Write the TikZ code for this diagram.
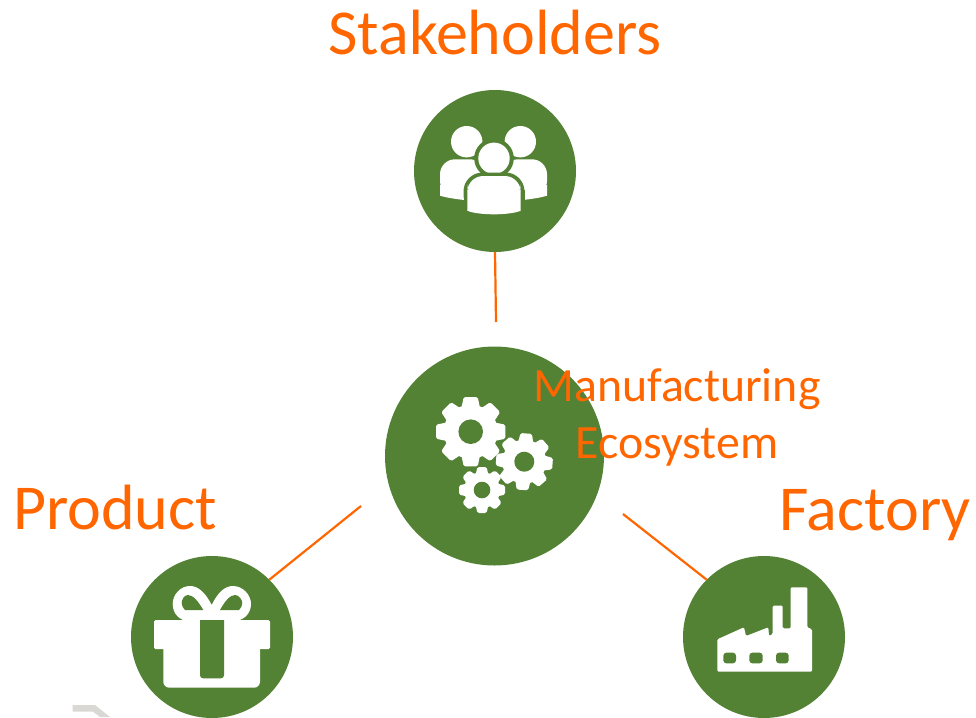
\documentclass[tikz,border=0pt]{standalone}
\usepackage{fontspec}
\setmainfont{Carlito}
\definecolor{leaf}{HTML}{548235}
\definecolor{tang}{HTML}{FF6600}
\definecolor{scrap}{HTML}{D9D8D4}
\tikzset{
  disc/.style={circle,fill=leaf,inner sep=0pt,outer sep=0pt,minimum size=#1},
  link/.style={draw=tang,line width=2.2pt},
  biglabel/.style={text=tang,font=\fontsize{64pt}{64pt}\selectfont,inner sep=0pt},
  midlabel/.style={text=tang,font=\fontsize{47.8pt}{47.8pt}\selectfont,inner sep=0pt},
  glyph/.style={fill=white,draw=none},
  cutout/.style={fill=leaf,draw=none}
}
\newcommand{\gearicon}[6]{%
  \begin{scope}[shift={(#1,#2)},rotate=#6]
    \fill[glyph] (0,0) circle (#4);
    \foreach \a in {0,45,...,315}{
      \fill[glyph,rotate=\a,rounded corners=1.6pt]
        (-0.36*#4,0.8*#4) -- (-0.26*#4,#3) -- (0.26*#4,#3) -- (0.36*#4,0.8*#4) -- cycle;
    }
    \fill[cutout] (0,0) circle (#5);
  \end{scope}}
\begin{document}
\begin{tikzpicture}[x=1pt,y=-1pt]
\useasboundingbox (0,0) rectangle (976,717);
% discs
\node[disc=162pt] (stake) at (495,171) {};
\node[disc=219pt] (core) at (494.5,456) {};
\node[disc=162pt] (prod) at (212,637) {};
\node[disc=162pt] (fact) at (764,637) {};
% connectors
\coordinate (stakeEnd) at (496,322);
\coordinate (prodEnd) at (361,506);
\coordinate (factEnd) at (623,514);
\draw[link] (stake.south) -- (stakeEnd);
\draw[link] (prod.45) -- (prodEnd);
\draw[link] (fact.135) -- (factEnd);
% people
\fill[glyph] (466.7,141.7) circle (15.7);
\fill[glyph] (520.3,141.7) circle (15.7);
\fill[glyph,rounded corners=15pt] (440,195.7) -- (440,159.3) -- (485,159.3) -- (485,200) -- cycle;
\fill[glyph] (440,195.7) .. controls (448,198) and (456,199) .. (464,200) -- (485,200) -- (485,185) -- (440,185) -- cycle;
\fill[glyph,rounded corners=15pt] (547,195.7) -- (547,159.3) -- (503,159.3) -- (503,200) -- cycle;
\fill[glyph] (547,195.7) .. controls (539,198) and (531,199) .. (523,200) -- (503,200) -- (503,185) -- (547,185) -- cycle;
\fill[cutout] (494,158.3) circle (19.8);
\fill[glyph] (494,158.3) circle (15.7);
\fill[cutout,rounded corners=19pt] (463.5,214) -- (463.5,172.5) -- (524.5,172.5) -- (524.5,214) -- cycle;
\fill[cutout] (463.5,190) rectangle (524.5,218);
\fill[glyph,rounded corners=16pt] (467.3,200) -- (467.3,176) -- (520.7,176) -- (520.7,200) -- cycle;
\fill[glyph] (467.3,190) -- (467.3,210.7) .. controls (478,215.5) and (510,215.5) .. (520.7,210.7) -- (520.7,190) -- cycle;
% gears
\gearicon{470.7}{431.7}{34.7}{27}{12.3}{0}
\gearicon{524.3}{461.7}{28.3}{22}{10}{-4}
\gearicon{482}{490}{23}{18}{8.3}{0}
% gift
\fill[glyph] (211.7,605) .. controls (205,592) and (198,586) .. (190,586)
  .. controls (180,586) and (172.7,595) .. (172.7,604)
  .. controls (172.7,614) and (180,621) .. (189,621) -- (234,621)
  .. controls (243,621) and (251,614) .. (251,604)
  .. controls (251,595) and (243,586) .. (233,586)
  .. controls (225,586) and (218,592) .. (211.7,605) -- cycle;
\fill[cutout] (203.3,610) .. controls (198,601) and (193,595) .. (188,595)
  .. controls (184,595) and (181.7,600) .. (181.7,603)
  .. controls (181.7,606) and (183,608) .. (185,610) -- cycle;
\fill[cutout] (220,610) .. controls (225,601) and (230,595) .. (235,595)
  .. controls (239,595) and (242.3,600) .. (242.3,603)
  .. controls (242.3,606) and (241,608) .. (239,610) -- cycle;
\fill[glyph,rounded corners=1.5pt] (154,620) rectangle (270,649);
\fill[glyph,rounded corners=6pt] (163.3,640) rectangle (260,687.7);
\fill[cutout,rounded corners=3pt] (200,620) -- (200,678.3) -- (224,678.3) -- (224,620);
\fill[cutout] (200,620) rectangle (224,630);
% factory
\fill[glyph,rounded corners=1.2pt] (717.3,671.7) -- (717.3,639.3) -- (744,627.3) -- (746,636)
  -- (768.3,627.3) -- (769,636) -- (772.7,634) -- (772.7,605.7) -- (782.7,605.7) -- (782.7,628.3)
  -- (790.7,628.3) -- (790.7,587.3) -- (807.3,587.3) -- (807.3,627.3) -- (812,629.3) -- (812,671.7) -- cycle;
\fill[cutout,rounded corners=3pt] (723.3,652.7) rectangle (736,663.3);
\fill[cutout,rounded corners=3pt] (749.3,652.7) rectangle (762.7,663.3);
\fill[cutout,rounded corners=3pt] (776,652.7) rectangle (788.7,663.3);
% corner fragment
\fill[scrap] (72.7,705) -- (95,705) -- (110,717) -- (100,717) -- (93,711.7) -- (72.7,711.7) -- cycle;
% labels
\node[biglabel] (lblStake) at (495,33) {Stakeholders};
\node[biglabel] (lblProd) at (115,508) {Product};
\node[biglabel] (lblFact) at (875,515) {Factory};
\node[midlabel] (lblMan) at (677,389) {Manufacturing};
\node[midlabel] (lblEco) at (677,447) {Ecosystem};
\end{tikzpicture}
\end{document}
